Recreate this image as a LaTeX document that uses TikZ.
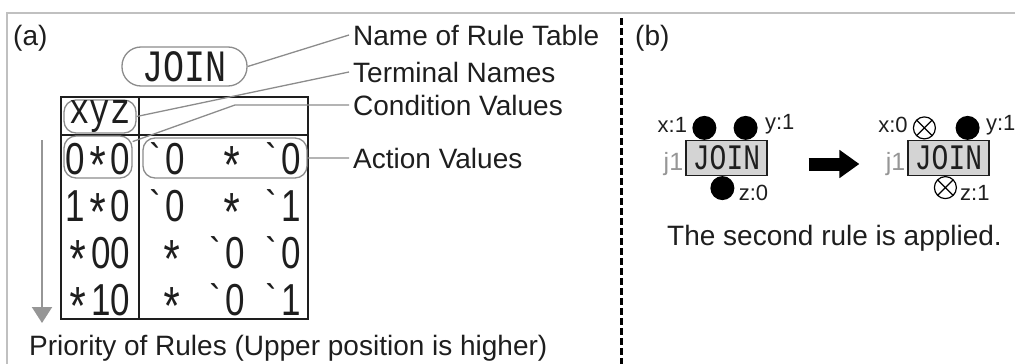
\documentclass[tikz,border=0pt]{standalone}
\usepackage{fontspec}
\setmainfont{Liberation Sans}
\setmonofont{Liberation Mono}
\usetikzlibrary{arrows.meta, positioning}
\definecolor{GrisCadre}{RGB}{192,192,192}
\definecolor{GrisTrait}{RGB}{140,140,140}
\definecolor{GrisFleche}{RGB}{150,150,150}
\definecolor{GrisFond}{RGB}{212,212,212}
\definecolor{Encre}{RGB}{30,30,30}
\newcommand{\etire}[1]{\scalebox{1}[1.28]{#1}}
\newcommand{\et}{\raisebox{-0.26em}[0pt][0pt]{\scalebox{1.2}{\ttfamily *}}}
\newcommand{\apo}{\raisebox{0pt}[0pt][0pt]{\ttfamily`}}
\tikzset{txt/.style={inner sep=0pt, text=Encre, font=\fontsize{28}{30}\selectfont}}
\tikzset{code/.style={inner sep=0pt, text=Encre, font=\fontsize{35}{35}\selectfont}}
\tikzset{bulle/.style={rectangle, rounded corners=12pt, draw=GrisTrait, line width=1.3pt, inner sep=0pt}}
\tikzset{rep/.style={draw=GrisTrait, line width=1.3pt}}
\tikzset{tbl/.style={draw=Encre, line width=1.3pt}}
\tikzset{prio/.style={draw=GrisFleche, line width=2pt, -{Triangle[length=16pt, width=20pt]}}}
\tikzset{porte/.style={rectangle, draw=Encre, fill=GrisFond, line width=1.2pt,
  minimum width=81pt, minimum height=35pt, inner sep=0pt, text=Encre,
  font=\ttfamily\fontsize{28}{28}\selectfont}}
\tikzset{plein/.style={circle, fill=black, minimum size=24pt, inner sep=0pt}}
\tikzset{croix/.style={circle, draw=black, fill=white, line width=1.2pt, minimum size=22pt, inner sep=0pt,
  path picture={\draw[line width=1.2pt] (path picture bounding box.north west) -- (path picture bounding box.south east)
    (path picture bounding box.south west) -- (path picture bounding box.north east);}}}
\tikzset{etiq/.style={inner sep=0pt, text=Encre, font=\fontsize{22}{22}\selectfont}}
\tikzset{fl/.style={line width=13pt, -{Triangle[length=20pt, width=27pt]}}}

\begin{document}
\begin{tikzpicture}[x=1pt, y=-1pt]
\useasboundingbox (0,0) rectangle (1015,364);
\draw[GrisCadre, line width=1.5pt] (7,364) -- (7,13) -- (1015,13);
\draw[line width=3pt, dash pattern=on 7pt off 3pt] (621,18) -- (621,364);
\node[txt, anchor=base west] (pa) at (13,45) {(a)};
\node[txt, anchor=base west] (pb) at (635,45) {(b)};

\node[bulle, code, rounded corners=19pt, minimum width=125pt, minimum height=39pt,
  font=\ttfamily\fontsize{35}{35}\selectfont] (nom) at (184.5,66.5) {\etire{JOIN}};
\draw[tbl] (61,97) rectangle (308,319) (139,97) -- (139,319) (61,135) -- (308,135);
\node[bulle, code, minimum width=72pt, minimum height=33pt,
  font=\ttfamily\fontsize{34}{34}\selectfont] (xyz) at (100,116.5) {\etire{xyz}};
\node[bulle, minimum width=68pt, minimum height=42pt] (cond) at (98,157) {};
\node[bulle, minimum width=164pt, minimum height=40pt] (act) at (225,158) {};
\foreach \g [count=\i from 0] in {0\et0,1\et0,\et00,\et10}
  \node[code, anchor=base] (g\i) at (98,174+47*\i) {\etire{\g}};
\foreach \a/\b/\c [count=\i from 0] in {\apo0/\et/\apo0, \apo0/\et/\apo1, \et/\apo0/\apo0, \et/\apo0/\apo1} {
  \node[code, anchor=base east] (a\i) at (185,174+47*\i) {\etire{\a}};
  \node[code, anchor=base east] (b\i) at (245,174+47*\i) {\etire{\b}};
  \node[code, anchor=base east] (c\i) at (301,174+47*\i) {\etire{\c}};
}

\node[txt, anchor=base west] (lnom) at (353,45) {Name of Rule Table};
\node[txt, anchor=base west] (lterm) at (353,82) {Terminal Names};
\node[txt, anchor=base west] (lcond) at (353,115) {Condition Values};
\node[txt, anchor=base west] (lact) at (353,168) {Action Values};
\draw[rep] (nom.east) -- ([xshift=-4pt]lnom.west);
\draw[rep] (xyz.east) -- ([xshift=-4pt]lterm.west);
\draw[rep] (cond.24) -- ([xshift=-118pt]lcond.west) -- ([xshift=-4pt]lcond.west);
\draw[rep] (act.east) -- ([xshift=-4pt]lact.west);

\coordinate (haut) at (42,140);
\coordinate (bas) at (42,323);
\draw[prio] (haut) -- (bas);
\node[txt, anchor=base west] (lprio) at (29,355) {Priority of Rules (Upper position is higher)};

\node[porte] (jg) at (726.5,158) {\etire{JOIN}};
\node[plein] (gx) at ([shift={(19pt,12pt)}]jg.north west) {};
\node[plein] (gy) at ([shift={(-22pt,12pt)}]jg.north east) {};
\node[plein] (gz) at ([shift={(37pt,-12pt)}]jg.south west) {};
\node[etiq, anchor=base east] at ([shift={(-5pt,-4.5pt)}]gx.west) {x:1};
\node[etiq, anchor=base west] at ([shift={(7pt,-1.5pt)}]gy.east) {y:1};
\node[etiq, anchor=base west] at ([shift={(4pt,-12pt)}]gz.east) {z:0};
\node[etiq, anchor=base east, text=GrisFleche, font=\fontsize{25}{25}\selectfont] at ([shift={(-2pt,-12pt)}]jg.west) {j1};

\node[porte] (jd) at (948.5,158) {\etire{JOIN}};
\node[croix] (dx) at ([shift={(17pt,12pt)}]jd.north west) {};
\node[plein] (dy) at ([shift={(-22pt,12pt)}]jd.north east) {};
\node[croix] (dz) at ([shift={(38pt,-11.5pt)}]jd.south west) {};
\node[etiq, anchor=base east] at ([shift={(-5pt,-4.5pt)}]dx.west) {x:0};
\node[etiq, anchor=base west] at ([shift={(6pt,-2.5pt)}]dy.east) {y:1};
\node[etiq, anchor=base west] at ([shift={(3pt,-12.5pt)}]dz.east) {z:1};
\node[etiq, anchor=base east, text=GrisFleche, font=\fontsize{25}{25}\selectfont] at ([shift={(-2pt,-12pt)}]jd.west) {j1};

\draw[fl] ([shift={(41pt,-6pt)}]jg.east) -- ([shift={(-48pt,-6pt)}]jd.west);
\node[txt, anchor=base west] (regle) at (667,245) {The second rule is applied.};
\end{tikzpicture}
\end{document}
